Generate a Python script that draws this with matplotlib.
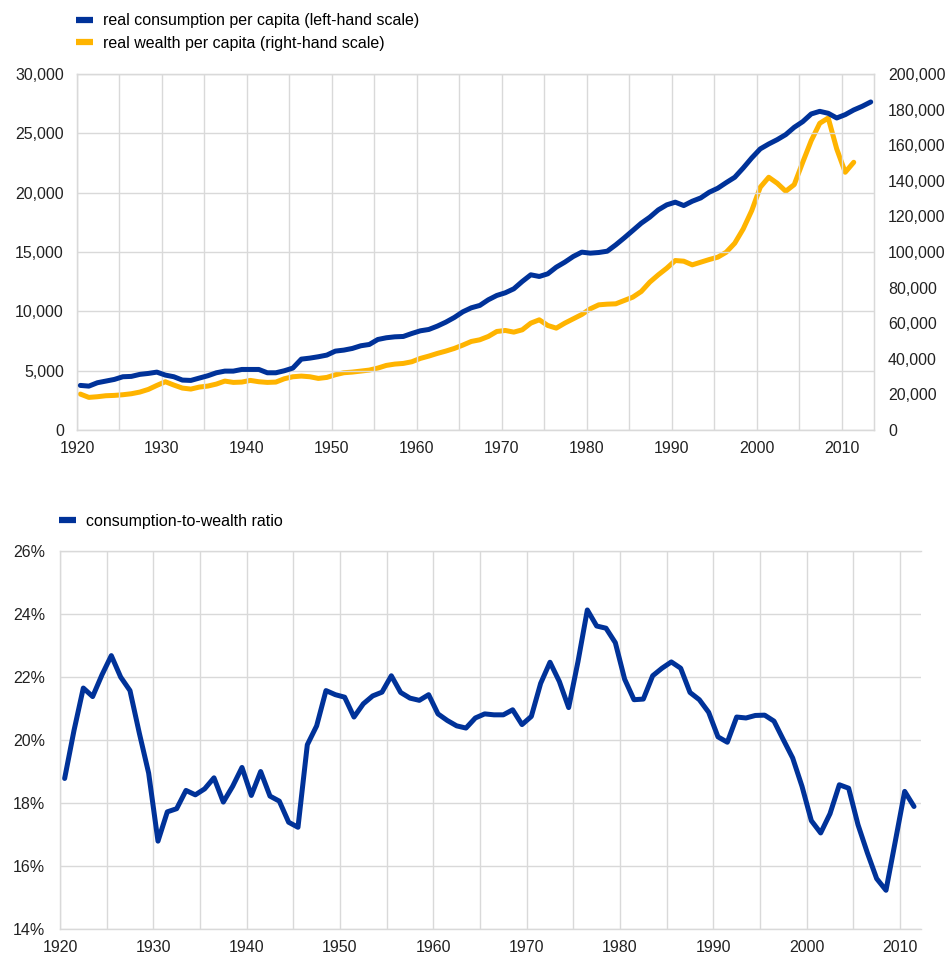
import numpy as np
import matplotlib
matplotlib.use("Agg")
import matplotlib.pyplot as plt
from matplotlib.lines import Line2D
from matplotlib.ticker import FuncFormatter, MultipleLocator

plt.rcParams['font.family'] = ['Liberation Sans', 'DejaVu Sans']

BLUE = '#003299'
YELLOW = '#FFB400'
GRID = '#d9d9d9'

# real consumption per capita (left-hand scale), 1920-2013
consumption_years = np.arange(1920, 2014)
consumption = [
    3760, 3700, 3985, 4125, 4265, 4490, 4520, 4690, 4770, 4880,
    4630, 4490, 4210, 4180, 4380, 4575, 4825, 4965, 4965, 5105,
    5105, 5105, 4825, 4825, 4995, 5220, 5975, 6060, 6175, 6315,
    6650, 6735, 6875, 7100, 7210, 7630, 7775, 7855, 7885, 8135,
    8360, 8475, 8755, 9090, 9485, 9960, 10300, 10500, 10975, 11340,
    11565, 11900, 12520, 13080, 12940, 13165, 13725, 14145, 14625, 14990,
    14905, 14960, 15070, 15605, 16195, 16810, 17430, 17935, 18550, 18975,
    19200, 18915, 19280, 19560, 20040, 20375, 20850, 21300, 22085, 22930,
    23690, 24105, 24470, 24895, 25510, 25985, 26635, 26855, 26690, 26295,
    26575, 26970, 27280, 27645,
]

# real wealth per capita (right-hand scale), 1920-2011
wealth_years = np.arange(1920, 2012)
wealth = [
    20200, 18340, 18710, 19270, 19460, 19830, 20390, 21330, 22830, 25070,
    27130, 25260, 23575, 23010, 24135, 24700, 25820, 27500, 26755, 26940,
    27880, 27130, 26755, 26940, 28810, 29935, 30310, 29935, 29000, 29560,
    31060, 32180, 32555, 33115, 33680, 34800, 36300, 37045, 37420, 38355,
    40225, 41535, 43035, 44345, 45840, 47710, 49760, 50695, 52565, 55370,
    55935, 55000, 56310, 60050, 61920, 58740, 57245, 60050, 62480, 64915,
    68095, 70340, 70715, 70900, 72775, 74645, 77825, 83065, 87180, 90920,
    95225, 94850, 92795, 94290, 95785, 97095, 99905, 104955, 113000, 123290,
    136385, 142000, 138630, 134140, 137885, 150420, 162580, 172310, 175300, 157900,
    144805, 150420,
]

# consumption-to-wealth ratio (%), 1920-2011
ratio_years = np.arange(1920, 2012)
ratio = [
    18.78, 20.3, 21.65, 21.38, 22.07, 22.68, 22.0, 21.57, 20.22, 18.95,
    16.79, 17.72, 17.82, 18.4, 18.26, 18.45, 18.8, 18.03, 18.53, 19.13,
    18.24, 19.0, 18.22, 18.06, 17.39, 17.23, 19.85, 20.45, 21.57, 21.44,
    21.36, 20.73, 21.15, 21.4, 21.52, 22.04, 21.51, 21.33, 21.26, 21.44,
    20.83, 20.62, 20.45, 20.38, 20.7, 20.83, 20.8, 20.8, 20.96, 20.49,
    20.75, 21.8, 22.47, 21.86, 21.03, 22.49, 24.13, 23.62, 23.55, 23.09,
    21.93, 21.28, 21.3, 22.04, 22.28, 22.48, 22.28, 21.51, 21.28, 20.88,
    20.1, 19.93, 20.73, 20.7, 20.78, 20.79, 20.6, 20.01, 19.43, 18.53,
    17.44, 17.05, 17.66, 18.58, 18.47, 17.31, 16.42, 15.6, 15.23, 16.79,
    18.37, 17.89,
]

fig = plt.figure(figsize=(9.49, 9.55), dpi=100)

FS = 11.5
LW = 3.6


def style_axis(ax):
    ax.xaxis.set_major_locator(MultipleLocator(10))
    ax.xaxis.set_minor_locator(MultipleLocator(5))
    ax.grid(True, which='both', axis='x', color=GRID, linewidth=1)
    ax.grid(True, which='major', axis='y', color=GRID, linewidth=1)
    ax.set_axisbelow(True)
    ax.tick_params(which='both', length=0, labelsize=FS, colors='#222222')
    for s in ax.spines.values():
        s.set_color(GRID)
        s.set_linewidth(1)


# --- top chart ---
ax1 = fig.add_axes([0.0811, 0.5497, 0.840, 0.3728])
ax2 = ax1.twinx()
ax1.plot(consumption_years + 0.4, consumption, color=BLUE, lw=LW, zorder=3,
         solid_joinstyle='round', solid_capstyle='round')
ax2.plot(wealth_years + 0.4, wealth, color=YELLOW, lw=LW, zorder=2,
         solid_joinstyle='round', solid_capstyle='round')
ax1.set_zorder(ax2.get_zorder() + 1)
ax1.patch.set_visible(False)

ax1.set_xlim(1920, 2013.8)
ax1.set_ylim(0, 30000)
ax1.yaxis.set_major_locator(MultipleLocator(5000))
ax2.set_ylim(0, 200000)
ax2.yaxis.set_major_locator(MultipleLocator(20000))
comma = FuncFormatter(lambda v, p: f'{v:,.0f}')
ax1.yaxis.set_major_formatter(comma)
ax2.yaxis.set_major_formatter(comma)
style_axis(ax1)
ax2.tick_params(length=0, labelsize=FS, colors='#222222')
for s in ax2.spines.values():
    s.set_color(GRID)
ax1.tick_params(axis='y', pad=9.5)
ax2.tick_params(axis='y', pad=10)
ax1.tick_params(axis='x', pad=8)

handles = [Line2D([], [], color=BLUE, lw=4.5, solid_capstyle='butt'),
           Line2D([], [], color=YELLOW, lw=4.5, solid_capstyle='butt')]
fig.legend(handles, ['real consumption per capita (left-hand scale)',
                     'real wealth per capita (right-hand scale)'],
           loc='upper left', bbox_to_anchor=(0.080, 0.986), frameon=False,
           fontsize=FS, handlelength=1.1, handletextpad=0.6,
           labelspacing=0.45, borderaxespad=0, borderpad=0)

# --- bottom chart ---
ax3 = fig.add_axes([0.0632, 0.0272, 0.9073, 0.3958])
ax3.plot(ratio_years + 0.5, ratio, color=BLUE, lw=LW,
         solid_joinstyle='round', solid_capstyle='round')
ax3.set_xlim(1920, 2012.25)
ax3.set_ylim(14, 26)
ax3.yaxis.set_major_locator(MultipleLocator(2))
ax3.yaxis.set_major_formatter(FuncFormatter(lambda v, p: f'{v:.0f}%'))
style_axis(ax3)
ax3.spines['right'].set_visible(False)
ax3.tick_params(axis='y', pad=10.8)
ax3.tick_params(axis='x', pad=8)

fig.legend([Line2D([], [], color=BLUE, lw=4.5, solid_capstyle='butt')],
           ['consumption-to-wealth ratio'],
           loc='upper left', bbox_to_anchor=(0.062, 0.462), frameon=False,
           fontsize=FS, handlelength=1.1, handletextpad=0.6,
           borderaxespad=0, borderpad=0)

fig.savefig('out.png', dpi=100)
